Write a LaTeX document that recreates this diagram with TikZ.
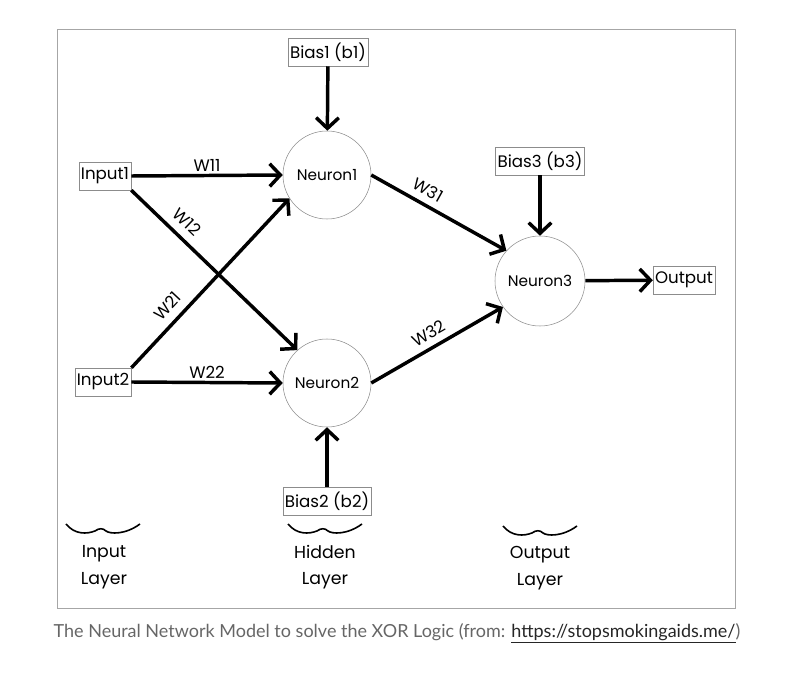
\documentclass[tikz,border=0pt]{standalone}
\usepackage{fontspec}
\setmainfont{Poppins}
\newfontfamily\capfont{Lato}
\usetikzlibrary{arrows.meta,positioning}

\begin{document}
\begin{tikzpicture}[x=0.75pt,y=-0.75pt]

\tikzset{
	unit/.style={
		draw=black!45,
		rectangle,
		thin,
		text centered,
		font=\fontsize{12.5}{14}\selectfont,
		inner xsep=1.5pt,
		minimum height=21pt},
	neuron/.style={
		draw=black!45,
		circle,
		thin,
		inner sep=0pt,
		minimum size=66pt,
		font=\fontsize{11.5}{13}\selectfont},
	conn/.style={
		line width=2.6pt,
		-{Straight Barb[length=8pt,width=17pt]}},
	weight/.style={
		font=\fontsize{12.5}{14}\selectfont,
		inner sep=2pt},
	layer/.style={
		align=center,
		font=\fontsize{13}{20}\selectfont},
	squig/.pic={
		\draw[line width=1.2pt] (-37,-7) .. controls (-28,4) and (-16,3) .. (-8,0)
			.. controls (-4,-3) and (0,-3) .. (3,0)
			.. controls (7,3) and (22,4) .. (37,-7);}
}

\useasboundingbox (0,0) rectangle (790,677);
\draw[black!35] (57,29) rectangle (735,608);

% input layer
\node[unit] (in1) at (105,176) {Input1};
\node[unit] (in2) at (103,382) {Input2};

% hidden layer
\node[neuron] (n1) at (327,175) {Neuron1};
\node[neuron] (n2) at (327,383) {Neuron2};
\node[unit] (b1) at (328,52) {Bias1 (b1)};
\node[unit] (b2) at (327,501) {Bias2 (b2)};

% output layer
\node[neuron,minimum size=67.5pt] (n3) at (540,281) {Neuron3};
\node[unit] (b3) at (540,161) {Bias3 (b3)};
\node[unit] (out) at (684,280) {Output};

\draw[conn] (in1.east) -- node[weight,above] {W11} (n1.west);
\draw[conn] (in1.south east) -- node[weight,sloped,above=4pt,pos=0.27] {W12} (n2.132);
\draw[conn] (in2.north east) -- node[weight,sloped,above=4pt,pos=0.3] {W21} (n1.212);
\draw[conn] (in2.east) -- node[weight,above] {W22} (n2.west);
\draw[conn] (n1.east) -- node[weight,sloped,above=3pt,pos=0.37] {W31} (n3.138);
\draw[conn] (n2.east) -- node[weight,sloped,above=3pt,pos=0.49] {W32} (n3.215);
\draw[conn] (b1) -- (n1);
\draw[conn] (b2) -- (n2);
\draw[conn] (b3) -- (n3);
\draw[conn] (n3) -- (out);

% layer names
\node[layer] (lin) at (104,567) {Input\\Layer};
\node[layer] (lhid) at (325,567) {Hidden\\Layer};
\node[layer] (lout) at (540,568) {Output\\Layer};
\pic at (103,531) {squig};
\pic at (325,531) {squig};
\pic at (540,533) {squig};

\node[font=\capfont\fontsize{13.5}{16}\selectfont,text=black!60] (cap) at (397,633)
	{The Neural Network Model to solve the XOR Logic (from: {\color{black!85}\underline{https://stopsmokingaids.me/}})};
\end{tikzpicture}
\end{document}
